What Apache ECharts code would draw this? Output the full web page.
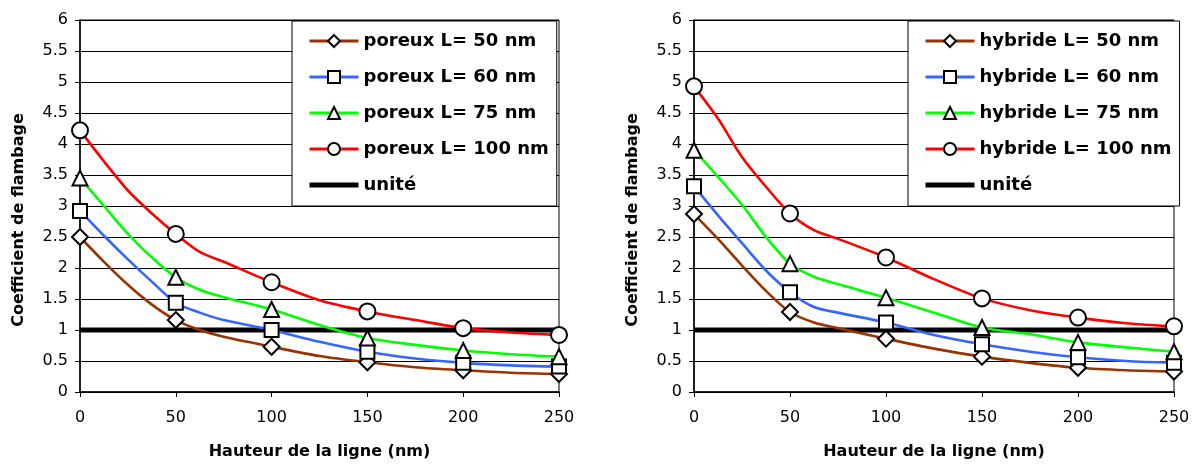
<!DOCTYPE html>
<html>
<head>
<meta charset="utf-8">
<script src="https://cdn.jsdelivr.net/npm/echarts@6/dist/echarts.min.js"></script>
<style>html,body{margin:0;padding:0;background:#fff;}#c{width:1195px;height:465px;}</style>
</head>
<body>
<div id="c"></div>
<script>
// ---- data ----
const heights = [0, 12.5, 25, 37.5, 50, 62.5, 75, 100, 125, 150, 175, 200, 225, 250];
const poreux50  = [2.50, 2.10, 1.73, 1.41, 1.16, 1.00, 0.89, 0.73, 0.58, 0.48, 0.40, 0.35, 0.31, 0.29];
const poreux60  = [2.92, 2.52, 2.14, 1.78, 1.44, 1.28, 1.16, 1.00, 0.81, 0.65, 0.54, 0.47, 0.43, 0.41];
const poreux75  = [3.45, 3.00, 2.55, 2.17, 1.85, 1.65, 1.53, 1.33, 1.08, 0.87, 0.76, 0.67, 0.61, 0.57];
const poreux100 = [4.22, 3.72, 3.25, 2.88, 2.55, 2.26, 2.10, 1.77, 1.48, 1.30, 1.16, 1.03, 0.96, 0.92];
const hybride50  = [2.87, 2.47, 2.04, 1.63, 1.29, 1.12, 1.03, 0.86, 0.70, 0.57, 0.47, 0.39, 0.35, 0.33];
const hybride60  = [3.32, 2.85, 2.40, 1.96, 1.61, 1.37, 1.28, 1.12, 0.92, 0.77, 0.65, 0.56, 0.50, 0.47];
const hybride75  = [3.90, 3.47, 3.02, 2.50, 2.07, 1.86, 1.74, 1.52, 1.28, 1.04, 0.93, 0.80, 0.72, 0.65];
const hybride100 = [4.93, 4.41, 3.79, 3.31, 2.88, 2.61, 2.47, 2.17, 1.82, 1.51, 1.32, 1.20, 1.11, 1.06];
const uniteX = [0, 250];
const uniteY = [1, 1];
const markerStep = 50;
const leftNames  = ['poreux L= 50 nm', 'poreux L= 60 nm', 'poreux L= 75 nm', 'poreux L= 100 nm'];
const rightNames = ['hybride L= 50 nm', 'hybride L= 60 nm', 'hybride L= 75 nm', 'hybride L= 100 nm'];
const uniteName = 'unité';
const xTitle = 'Hauteur de la ligne (nm)';
const yTitle = 'Coefficient de flambage';

// ---- styles ----
const colors  = ['#993300', '#3366ff', '#00ff00', '#ff0000'];
const symbols = ['emptyDiamond', 'emptyRect', 'emptyTriangle', 'emptyCircle'];
const sizes   = [16, 14, 15, 16];
const FONT = '"DejaVu Sans", sans-serif';

function pts(xs, ys) { return xs.map((x, i) => [x, ys[i]]); }

function curve(name, values, k, gi) {
  return {
    name: name, type: 'line', xAxisIndex: gi, yAxisIndex: gi,
    data: pts(heights, values),
    smooth: 0.3,
    symbol: symbols[k],
    symbolSize: function (v) { return v[0] % markerStep === 0 ? sizes[k] : 0; },
    showAllSymbol: true,
    itemStyle: { color: '#000', borderWidth: 1.3 },
    lineStyle: { color: colors[k], width: 2.6 },
    z: 3 + k,
    emphasis: { disabled: true }
  };
}
function unite(gi) {
  return {
    name: uniteName, type: 'line', xAxisIndex: gi, yAxisIndex: gi,
    data: pts(uniteX, uniteY), symbol: 'none',
    itemStyle: { color: '#000' },
    lineStyle: { color: '#000', width: 5 }, z: 2,
    emphasis: { disabled: true }
  };
}
function xAx(gi) {
  return {
    type: 'value', gridIndex: gi, min: 0, max: 250, interval: 50,
    name: xTitle, nameLocation: 'middle', nameGap: 52,
    nameTextStyle: { fontFamily: FONT, fontSize: 16, fontWeight: 'bold', color: '#000' },
    axisLine: { lineStyle: { color: '#000', width: 1.5 } },
    axisTick: { show: true, length: 5, lineStyle: { color: '#000' } },
    axisLabel: { fontFamily: FONT, fontSize: 16, color: '#000', margin: 18 },
    splitLine: { show: false }
  };
}
function yAx(gi) {
  return {
    type: 'value', gridIndex: gi, min: 0, max: 6, interval: 0.5,
    name: yTitle, nameLocation: 'middle', nameGap: 53,
    nameTextStyle: { fontFamily: FONT, fontSize: 16, fontWeight: 'bold', color: '#000', padding: [0, 28, 0, 0] },
    axisLine: { show: true, lineStyle: { color: '#000', width: 1.5 } },
    axisTick: { show: true, length: 5, lineStyle: { color: '#000' } },
    axisLabel: { fontFamily: FONT, fontSize: 16, color: '#000', margin: 12 },
    splitLine: { show: true, lineStyle: { color: '#000', width: 1 } }
  };
}
function legend(names, left) {
  return {
    orient: 'vertical', left: left, top: 21,
    data: names.concat([{ name: uniteName, icon: 'path://M0,0H49V5H0Z' }]),
    itemWidth: 49, itemHeight: 15, itemGap: 18,
    padding: [11, 8, 12, 16],
    backgroundColor: '#fff', borderColor: '#000', borderWidth: 1, borderRadius: 0,
    lineStyle: { width: 3 },
    textStyle: { fontFamily: FONT, fontSize: 18, fontWeight: 'bold', color: '#000' },
    selectedMode: false
  };
}

const series = [unite(0), unite(1)];
leftNames.forEach((n, k) => series.push(curve(n, [poreux50, poreux60, poreux75, poreux100][k], k, 0)));
rightNames.forEach((n, k) => series.push(curve(n, [hybride50, hybride60, hybride75, hybride100][k], k, 1)));

const chart = echarts.init(document.getElementById('c'), null, { renderer: 'canvas' });
chart.setOption({
  animation: false,
  backgroundColor: '#fff',
  textStyle: { fontFamily: FONT },
  grid: [
    { left: 80, right: 636, top: 20, bottom: 73, show: true, borderColor: '#000', borderWidth: 1 },
    { left: 694, right: 21, top: 20, bottom: 73, show: true, borderColor: '#000', borderWidth: 1 }
  ],
  xAxis: [xAx(0), xAx(1)],
  yAxis: [yAx(0), yAx(1)],
  legend: [legend(leftNames, 292), legend(rightNames, 908)],
  series: series
});
</script>
</body>
</html>
